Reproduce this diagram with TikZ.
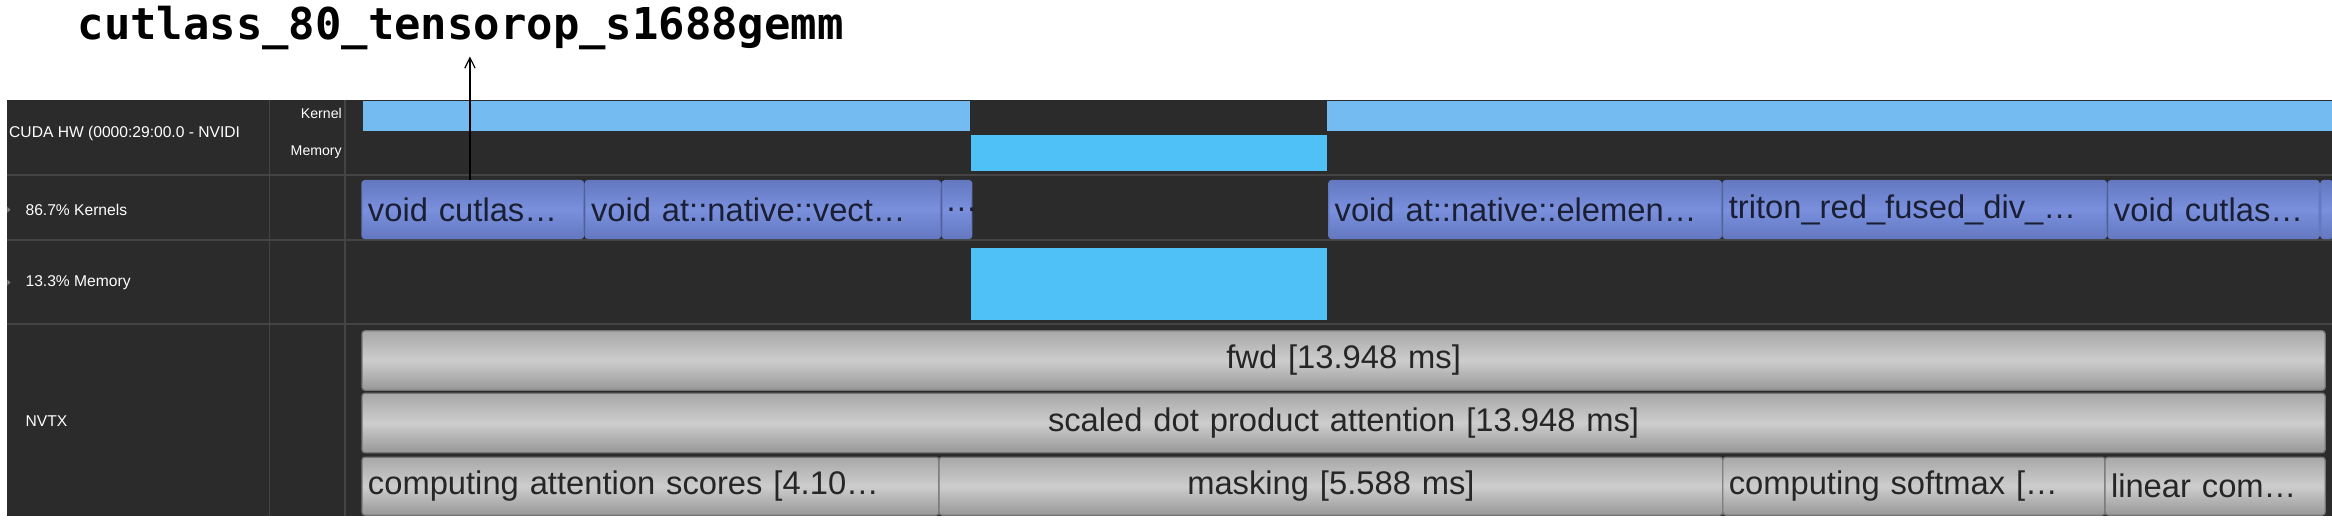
\documentclass[tikz,border=0pt]{standalone}
\usepackage{fontspec}
\usetikzlibrary{arrows.meta}
\setmainfont{Liberation Sans}
\newfontfamily\monof{DejaVu Sans Mono}
\definecolor{panel}{HTML}{2B2B2B}
\definecolor{gridl}{HTML}{444444}
\definecolor{kbar}{HTML}{74BBF2}
\definecolor{mbar}{HTML}{4FC1F7}
\definecolor{kbox}{HTML}{7A90DE}
\definecolor{kboxd}{HTML}{6478C0}
\definecolor{ktext}{HTML}{1A1F33}
\definecolor{nbox}{HTML}{CDCDCD}
\definecolor{nboxd}{HTML}{A8A8A8}
\tikzset{
 kern/.style={draw=kboxd,rounded corners=2pt,top color=kboxd,bottom color=kboxd,middle color=kbox,line width=0.8pt,
   inner ysep=0pt,inner xsep=4pt,font=\fontsize{22}{24}\selectfont,text=ktext,anchor=north west,minimum height=39pt,
   text width=#1-8pt,align=left},
 nvtx/.style={draw=nboxd!70!black,rounded corners=2pt,top color=nboxd,bottom color=nboxd!90!black,middle color=nbox,line width=0.8pt,
   inner ysep=0pt,inner xsep=4pt,font=\fontsize{22}{24}\selectfont,text=black!85,anchor=north west,text width=#1-8pt},
 lbl/.style={text=white,font=\fontsize{10.5}{12}\selectfont,inner sep=0pt,anchor=west},
}
\begin{document}
\begin{tikzpicture}[x=1pt,y=-1pt]
\useasboundingbox (0,0) rectangle (1568,352);
\fill[white] (0,0) rectangle (1568,352);
\fill[panel] (5,67) rectangle (1568,347);
% grid
\draw[gridl,line width=0.8pt] (181,67) -- (181,347) (232,67) -- (232,347);
\draw[gridl,line width=1.5pt] (5,117.5) -- (1568,117.5) (5,161.5) -- (1568,161.5) (5,218) -- (1568,218);
% labels
\node[lbl] (cuda) at (6,90) {CUDA HW (0000:29:00.0 - NVIDI};
\node[lbl,anchor=east,font=\fontsize{9.5}{11}\selectfont] (kl) at (230,76) {Kernel};
\node[lbl,anchor=east,font=\fontsize{9.5}{11}\selectfont] (ml) at (230,102) {Memory};
\node[lbl] (k87) at (17,141) {86.7\% Kernels};
\node[lbl] (m13) at (17,190) {13.3\% Memory};
\node[lbl] (nv) at (17,283) {NVTX};
\fill[gray] (5,139) -- (7,141) -- (5,143) -- cycle;
\fill[gray] (5,188) -- (7,190) -- (5,192) -- cycle;
% bars
\fill[kbar] (244,68) rectangle (652,88);
\fill[kbar] (892,68) rectangle (1568,88);
\fill[mbar] (653,91) rectangle (892,115);
\fill[mbar] (653,167) rectangle (892,215);
% kernel boxes
\node[kern=149pt] (k1) at (243,121) {void cutlas…};
\node[kern=239pt] (k2) at (393,121) {void at::native::vect…};
\node[kern=20pt,inner xsep=2pt,text width=16pt] (k3) at (633,121) {…};
\node[kern=264pt] (k4) at (893,121) {void at::native::elemen…};
\node[kern=258pt] (k5) at (1158,121) {triton\_red\_fused\_div\_…};
\node[kern=142pt] (k6) at (1417,121) {void cutlas…};
\node[kern=8pt,inner xsep=0pt,text width=8pt] (k7) at (1560,121) {};
% NVTX
\node[nvtx=1320pt,minimum height=40pt,align=center] (fwd) at (243,222) {fwd [13.948 ms]};
\node[nvtx=1320pt,minimum height=40pt,align=center] (sdpa) at (243,264) {scaled dot product attention [13.948 ms]};
\node[nvtx=388pt,minimum height=39pt,align=left] (n1) at (243,307) {computing attention scores [4.10…};
\node[nvtx=527pt,minimum height=39pt,align=center] (n2) at (631,307) {masking [5.588 ms]};
\node[nvtx=257pt,minimum height=39pt,align=left] (n3) at (1158,307) {computing softmax […};
\node[nvtx=148pt,minimum height=39pt,align=left] (n4) at (1415,307) {linear com…};
% title + arrow
\node[font=\monof\bfseries\fontsize{29.5}{32}\selectfont,anchor=west,inner sep=0pt] (title) at (52,19) {cutlass\_80\_tensorop\_s1688gemm};
\coordinate (tip) at (316,121);
\draw[-{Straight Barb[length=7pt,width=7pt]},line width=0.8pt] (tip) -- (316,38);
\end{tikzpicture}
\end{document}
